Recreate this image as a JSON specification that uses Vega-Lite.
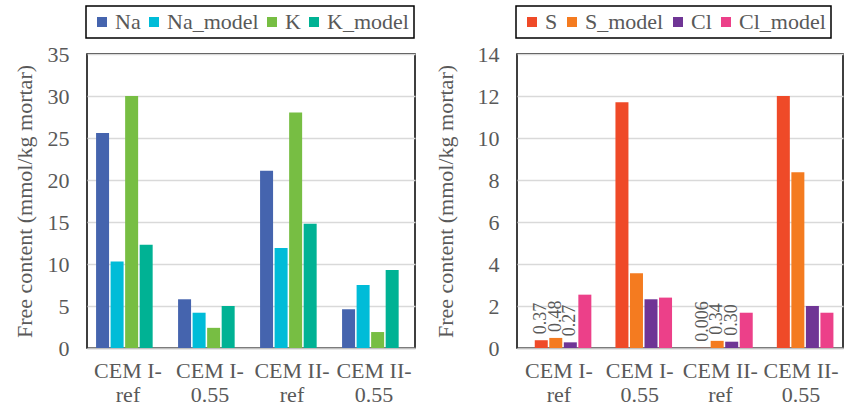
{
  "$schema": "https://vega.github.io/schema/vega-lite/v6.json",
  "padding": {"left": 12, "top": 4, "right": 0, "bottom": 0},
  "background": "white",
  "spacing": 17,
  "config": {
    "font": "Liberation Serif",
    "view": {"stroke": "black", "strokeWidth": 1.5},
    "axis": {"labelFont": "Liberation Serif", "titleFont": "Liberation Serif", "labelColor": "#595959", "titleColor": "#595959", "labelFontSize": 22, "titleFontSize": 22, "titleFontWeight": "normal"},
    "legend": {"labelFont": "Liberation Serif", "labelFontSize": 22, "labelColor": "#595959"}
  },
  "datasets": {
    "left": [
      {"grp": "CEM I-|ref", "series": "Na", "value": 25.6},
      {"grp": "CEM I-|ref", "series": "Na_model", "value": 10.3},
      {"grp": "CEM I-|ref", "series": "K", "value": 30.0},
      {"grp": "CEM I-|ref", "series": "K_model", "value": 12.3},
      {"grp": "CEM I-|0.55", "series": "Na", "value": 5.8},
      {"grp": "CEM I-|0.55", "series": "Na_model", "value": 4.2},
      {"grp": "CEM I-|0.55", "series": "K", "value": 2.4},
      {"grp": "CEM I-|0.55", "series": "K_model", "value": 5.0},
      {"grp": "CEM II-|ref", "series": "Na", "value": 21.1},
      {"grp": "CEM II-|ref", "series": "Na_model", "value": 11.9},
      {"grp": "CEM II-|ref", "series": "K", "value": 28.05},
      {"grp": "CEM II-|ref", "series": "K_model", "value": 14.8},
      {"grp": "CEM II-|0.55", "series": "Na", "value": 4.6},
      {"grp": "CEM II-|0.55", "series": "Na_model", "value": 7.5},
      {"grp": "CEM II-|0.55", "series": "K", "value": 1.9},
      {"grp": "CEM II-|0.55", "series": "K_model", "value": 9.3}
    ],
    "right": [
      {"grp": "CEM I-|ref", "series": "S", "value": 0.37, "label": "0.37"},
      {"grp": "CEM I-|ref", "series": "S_model", "value": 0.48, "label": "0.48"},
      {"grp": "CEM I-|ref", "series": "Cl", "value": 0.27, "label": "0.27"},
      {"grp": "CEM I-|ref", "series": "Cl_model", "value": 2.54, "label": null},
      {"grp": "CEM I-|0.55", "series": "S", "value": 11.7, "label": null},
      {"grp": "CEM I-|0.55", "series": "S_model", "value": 3.56, "label": null},
      {"grp": "CEM I-|0.55", "series": "Cl", "value": 2.32, "label": null},
      {"grp": "CEM I-|0.55", "series": "Cl_model", "value": 2.4, "label": null},
      {"grp": "CEM II-|ref", "series": "S", "value": 0.006, "label": "0.006"},
      {"grp": "CEM II-|ref", "series": "S_model", "value": 0.34, "label": "0.34"},
      {"grp": "CEM II-|ref", "series": "Cl", "value": 0.30, "label": "0.30"},
      {"grp": "CEM II-|ref", "series": "Cl_model", "value": 1.68, "label": null},
      {"grp": "CEM II-|0.55", "series": "S", "value": 12.0, "label": null},
      {"grp": "CEM II-|0.55", "series": "S_model", "value": 8.37, "label": null},
      {"grp": "CEM II-|0.55", "series": "Cl", "value": 2.0, "label": null},
      {"grp": "CEM II-|0.55", "series": "Cl_model", "value": 1.68, "label": null}
    ]
  },
  "resolve": {"scale": {"color": "independent", "y": "independent"}, "legend": {"color": "independent"}},
  "hconcat": [
    {
      "width": 328,
      "height": 294,
      "data": {"name": "left"},
      "mark": {"type": "bar", "width": 13},
      "encoding": {
        "x": {"field": "grp", "type": "nominal", "sort": null,
              "scale": {"paddingInner": 0.3, "paddingOuter": 0.15},
              "axis": {"title": null, "labelAngle": 0, "labelExpr": "split(datum.label, '|')", "labelLineHeight": 24, "labelPadding": 12, "ticks": false, "domainColor": "#bfbfbf", "domainWidth": 1.5, "grid": false}},
        "xOffset": {"field": "series", "type": "nominal", "sort": ["Na", "Na_model", "K", "K_model"], "scale": {"paddingInner": 0.1}},
        "y": {"field": "value", "type": "quantitative",
              "scale": {"domain": [0, 35], "nice": false},
              "axis": {"title": "Free content (mmol/kg  mortar)", "values": [0, 5, 10, 15, 20, 25, 30, 35], "domain": false, "ticks": false, "grid": true, "gridColor": "#d9d9d9", "gridWidth": 1.5, "labelPadding": 18, "titlePadding": 11}},
        "color": {"field": "series", "type": "nominal",
                  "scale": {"domain": ["Na", "Na_model", "K", "K_model"], "range": ["#4564ae", "#00bcd8", "#77be43", "#00b294"]},
                  "legend": {"title": null, "orient": "none", "legendX": -1, "legendY": -48, "direction": "horizontal", "columns": 4, "symbolType": "square", "symbolSize": 100, "symbolStrokeWidth": 0, "symbolOpacity": 1, "labelOffset": 2, "columnPadding": 2, "strokeColor": "black", "padding": 5,
                             "encode": {"legend": {"update": {"strokeWidth": {"value": 1.5}}}}}}
      }
    },
    {
      "width": 326,
      "height": 294,
      "data": {"name": "right"},
      "encoding": {
        "x": {"field": "grp", "type": "nominal", "sort": null,
              "scale": {"paddingInner": 0.3, "paddingOuter": 0.17},
              "axis": {"title": null, "labelAngle": 0, "labelExpr": "split(datum.label, '|')", "labelLineHeight": 24, "labelPadding": 12, "ticks": false, "domainColor": "#bfbfbf", "domainWidth": 1.5, "grid": false}},
        "xOffset": {"field": "series", "type": "nominal", "sort": ["S", "S_model", "Cl", "Cl_model"], "scale": {"paddingInner": 0.1}},
        "y": {"field": "value", "type": "quantitative",
              "scale": {"domain": [0, 14], "nice": false},
              "axis": {"title": "Free content (mmol/kg  mortar)", "values": [0, 2, 4, 6, 8, 10, 12, 14], "domain": false, "ticks": false, "grid": true, "gridColor": "#d9d9d9", "gridWidth": 1.5, "labelPadding": 18, "titlePadding": 20}}
      },
      "layer": [
        {
          "mark": {"type": "bar", "width": 13},
          "encoding": {
            "color": {"field": "series", "type": "nominal",
                      "scale": {"domain": ["S", "S_model", "Cl", "Cl_model"], "range": ["#ef4a28", "#f47b20", "#6f3595", "#ec4089"]},
                      "legend": {"title": null, "orient": "none", "legendX": -1, "legendY": -48, "direction": "horizontal", "columns": 4, "symbolType": "square", "symbolSize": 100, "symbolStrokeWidth": 0, "symbolOpacity": 1, "labelOffset": 2, "columnPadding": 3, "strokeColor": "black", "padding": 5,
                                 "encode": {"legend": {"update": {"strokeWidth": {"value": 1.5}}}}}}
          }
        },
        {
          "transform": [{"filter": "datum.label != null"}],
          "mark": {"type": "text", "angle": 270, "align": "left", "baseline": "middle", "dx": 6, "fontSize": 18, "color": "#595959", "font": "Liberation Serif"},
          "encoding": {"text": {"field": "label", "type": "nominal"}}
        }
      ]
    }
  ]
}
